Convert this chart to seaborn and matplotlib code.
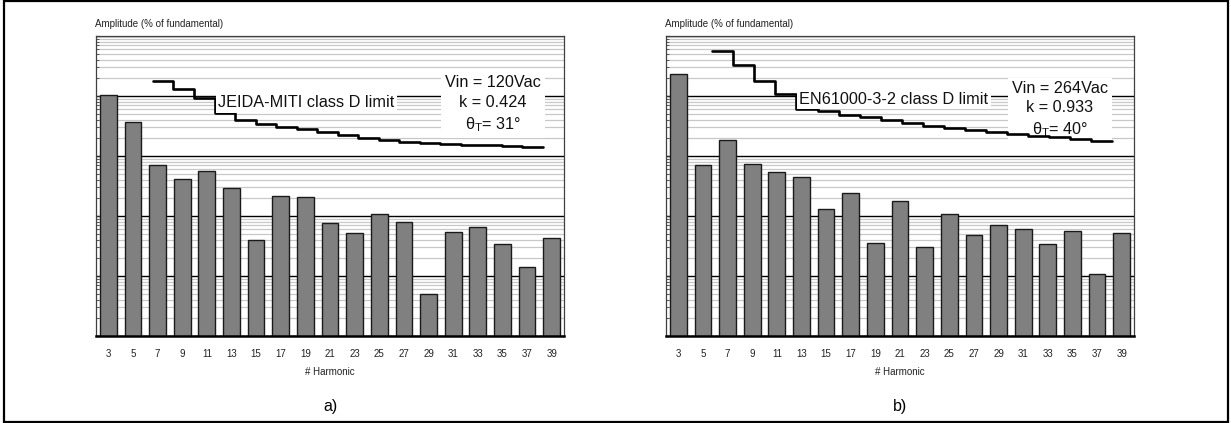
import numpy as np
import pandas as pd
import matplotlib
matplotlib.use("Agg")
import matplotlib.pyplot as plt
from matplotlib.ticker import LogLocator, NullFormatter
from matplotlib.patches import Rectangle
import seaborn as sns

sns.set_theme(style="white")
plt.rcParams["font.family"] = ["Liberation Sans", "DejaVu Sans"]
plt.rcParams["mathtext.fontset"] = "custom"
plt.rcParams["mathtext.rm"] = "Liberation Sans"
plt.rcParams["mathtext.it"] = "Liberation Sans"

# Odd harmonic orders shown on both spectra
harmonics = [3, 5, 7, 9, 11, 13, 15, 17, 19, 21, 23, 25, 27, 29, 31, 33, 35, 37, 39]

# a) Vin = 120 Vac: measured harmonic amplitudes and JEIDA-MITI class D limit (% of fundamental)
amp_a = [10.4, 3.64, 0.717, 0.408, 0.555, 0.289, 0.0393, 0.213, 0.205, 0.0764,
         0.0528, 0.108, 0.0784, 0.00494, 0.0541, 0.0656, 0.0341, 0.0139, 0.0425]
limit_a = [18.0, 13.1, 9.37, 5.15, 3.98, 3.38, 3.08, 2.82, 2.48, 2.28,
           2.0, 1.85, 1.73, 1.67, 1.60, 1.54, 1.51, 1.45, 1.41]

# b) Vin = 264 Vac: measured harmonic amplitudes and EN61000-3-2 class D limit (% of fundamental)
amp_b = [23.3, 0.699, 1.82, 0.727, 0.535, 0.441, 0.129, 0.245, 0.0355, 0.176,
         0.0308, 0.108, 0.0482, 0.0708, 0.0607, 0.0341, 0.0562, 0.0109, 0.0528]
limit_b = [56.2, 32.8, 17.8, 10.7, 6.07, 5.62, 4.82, 4.42, 3.98, 3.59,
           3.16, 2.90, 2.71, 2.48, 2.33, 2.18, 2.05, 1.92, 1.78]

panels = [
    dict(amp=amp_a, limit=limit_a, limit_text="JEIDA-MITI class D limit",
         params="Vin = 120Vac\nk = 0.424\nθ$_{\\rm T}$= 31°", tag="a)",
         left=96, lim_x=(-3.55, 42.05), lab_xy=(0.449, 0.777), par_xy=(0.848, 0.772)),
    dict(amp=amp_b, limit=limit_b, limit_text="EN61000-3-2 class D limit",
         params="Vin = 264Vac\nk = 0.933\nθ$_{\\rm T}$= 40°", tag="b)",
         left=666, lim_x=(-2.41, 42.1), lab_xy=(0.487, 0.79), par_xy=(0.842, 0.754)),
]

W, H = 1231, 423
fig = plt.figure(figsize=(W / 100, H / 100), dpi=100)
fig.patch.set_facecolor("white")

for p in panels:
    ax = fig.add_axes([p["left"] / W, 1 - 336 / H, 468 / W, 300 / H])
    df = pd.DataFrame({"harmonic": [str(h) for h in harmonics], "amp": p["amp"]})
    sns.barplot(data=df, x="harmonic", y="amp", ax=ax, color="#808080",
                saturation=1, edgecolor="#1a1a1a", linewidth=1.0, width=0.68,
                errorbar=None)
    ax.set_yscale("log")
    ax.set_ylim(0.001, 100)
    ax.set_xlim(-0.5, len(harmonics) - 0.5)
    ax.yaxis.set_major_locator(LogLocator(base=10, numticks=10))
    ax.yaxis.set_minor_locator(LogLocator(base=10, subs=np.arange(2, 10), numticks=20))
    ax.yaxis.set_major_formatter(NullFormatter())
    ax.yaxis.set_minor_formatter(NullFormatter())
    ax.set_axisbelow(True)
    ax.grid(True, axis="y", which="major", color="black", linewidth=1.0)
    ax.grid(True, axis="y", which="minor", color="#c8c8c8", linewidth=0.9)
    ax.grid(False, axis="x")
    ax.tick_params(axis="x", which="major", direction="in", length=5, width=0.9,
                   color="#1e1e1e", labelsize=7, pad=9, labelcolor="#222222",
                   bottom=True)
    ax.tick_params(axis="y", which="major", direction="in", length=3, width=0.8,
                   color="#333333", left=True, labelleft=False)
    ax.tick_params(axis="y", which="minor", direction="in", length=2, width=0.7,
                   color="#555555", left=True, labelleft=False)
    for side in ("left", "top", "right"):
        ax.spines[side].set_color("#404040")
        ax.spines[side].set_linewidth(0.9)
    ax.spines["bottom"].set_color("black")
    ax.spines["bottom"].set_linewidth(1.8)
    ax.set_xlabel("")
    ax.set_ylabel("")

    ax.text(-0.003, 1.04, "Amplitude (% of fundamental)", transform=ax.transAxes,
            ha="left", va="center", fontsize=7, color="#222222")
    ax.text(0.5, -0.119, "# Harmonic", transform=ax.transAxes, ha="center",
            va="center", fontsize=7, color="#222222")
    ax.text(0.5, -0.236, p["tag"], transform=ax.transAxes, ha="center",
            va="center", fontsize=11.5, color="black")

    # class D limit drawn as a staircase, one step per harmonic order
    tw = ax.twiny()
    h = np.array(harmonics, dtype=float)
    lim = np.array(p["limit"], dtype=float)
    step_x = np.append(h - 1, h[-1] + 1)
    step_y = np.append(lim, lim[-1])
    sns.lineplot(x=step_x, y=step_y, ax=tw, color="black", linewidth=1.9,
                 drawstyle="steps-post", estimator=None, sort=False, zorder=3)
    tw.set_xlim(*p["lim_x"])
    tw.set_ylim(0.001, 100)
    tw.set_xticks([])
    tw.tick_params(top=False, labeltop=False)
    for s in tw.spines.values():
        s.set_visible(False)
    tw.set_ylabel("")
    tw.set_xlabel("")

    tw.text(*p["lab_xy"], p["limit_text"], transform=tw.transAxes, ha="center",
            va="center", fontsize=11.7, color="#111111", zorder=6,
            bbox=dict(boxstyle="square,pad=0.15", fc="white", ec="none"))
    tw.text(*p["par_xy"], p["params"], transform=tw.transAxes, ha="center",
            va="center", fontsize=11.7, color="#111111", linespacing=1.38,
            multialignment="center", zorder=2,
            bbox=dict(boxstyle="square,pad=0.25", fc="white", ec="none"))

# frame around the whole figure
fig.add_artist(Rectangle((4 / W, 1.5 / H), 1224 / W, 420 / H, transform=fig.transFigure,
                         fill=False, edgecolor="black", linewidth=1.6))

fig.savefig("out.png", dpi=100, facecolor="white")
